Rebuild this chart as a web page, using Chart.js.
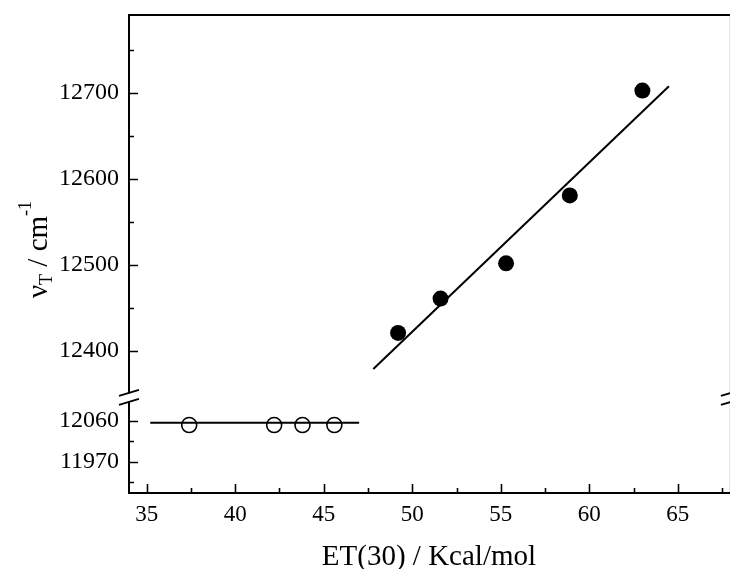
<!DOCTYPE html>
<html>
<head>
<meta charset="utf-8">
<script src="https://cdn.jsdelivr.net/npm/chart.js@4/dist/chart.umd.min.js"></script>
<style>
  html, body { margin: 0; padding: 0; background: #fff; overflow: hidden; }
  #wrap { width: 740px; height: 569px; }
</style>
</head>
<body>
<div id="wrap"><canvas id="et30-chart" width="740" height="569"></canvas></div>
<script>
// ET(30) axis ticks
const etMajor = [35, 40, 45, 50, 55, 60, 65];
const etMinor = [37.5, 42.5, 47.5, 52.5, 57.5, 62.5, 67.5];

// broken wavenumber axis: upper and lower segments
const nuUpperMajor = [12400, 12500, 12600, 12700];
const nuUpperMinor = [12450, 12550, 12650, 12750];
const nuLowerMajor = [11970, 12060];
const nuLowerMinor = [11925, 12015];

// filled circles (upper segment)
const filledEt = [49.2, 51.6, 55.3, 58.9, 63.0];
const filledNu = [12421, 12461, 12502, 12581, 12703];

// open circles (lower segment)
const openEt = [37.4, 42.2, 43.8, 45.6];
const openNu = [12051, 12051, 12051, 12051];

// linear fits
const fitUpperEt = [47.8, 64.5];
const fitUpperNu = [12379, 12708];
const fitLowerEt = [35.2, 47.0];
const fitLowerNu = [12056, 12056];

const toPoints = (xs, ys) => xs.map((x, i) => ({ x: x, y: ys[i] }));

const serif = 'Liberation Serif';
Chart.defaults.font.family = serif;
Chart.defaults.color = '#000';

// keep the plot box fixed: no extra room for overhanging labels
const fixBox = (w, h) => s => {
  if (w) s.width = w;
  if (h) s.height = h;
  s.paddingTop = 0;
  s.paddingBottom = 0;
  s.paddingLeft = 0;
  s.paddingRight = 0;
};

// axes frame, inward ticks, break marks and titles
const framePlugin = {
  id: 'frame',
  afterDraw(chart) {
    const ctx = chart.ctx;
    const area = chart.chartArea;
    const sx = chart.scales.x;
    const up = chart.scales.yUp;
    const low = chart.scales.yLow;
    const yb = up.bottom; // boundary between the two segments
    ctx.save();
    ctx.strokeStyle = '#000';
    ctx.lineCap = 'butt';

    // frame lines
    ctx.lineWidth = 2;
    ctx.beginPath();
    ctx.moveTo(area.left - 1, area.bottom);
    ctx.lineTo(area.right, area.bottom);
    ctx.moveTo(area.left - 1, area.top);
    ctx.lineTo(area.right, area.top);
    [area.left, area.right].forEach(ax => {
      ctx.moveTo(ax, area.top);
      ctx.lineTo(ax, yb - 4);
      ctx.moveTo(ax, yb + 4);
      ctx.lineTo(ax, area.bottom);
    });
    ctx.stroke();

    // break marks
    ctx.lineWidth = 2;
    ctx.beginPath();
    [area.left, area.right].forEach(ax => {
      [-4.5, 4.5].forEach(off => {
        ctx.moveTo(ax - 10, yb + off + 3);
        ctx.lineTo(ax + 10, yb + off - 3);
      });
    });
    ctx.stroke();

    // tick marks pointing into the plot
    ctx.lineWidth = 1.6;
    ctx.beginPath();
    const xTick = (v, len) => {
      const px = Math.round(sx.getPixelForValue(v)) + 0.5;
      ctx.moveTo(px, area.bottom);
      ctx.lineTo(px, area.bottom - len);
    };
    etMajor.forEach(v => xTick(v, 9));
    etMinor.forEach(v => xTick(v, 5));
    const yTick = (scale, v, len) => {
      const py = Math.round(scale.getPixelForValue(v)) + 0.5;
      ctx.moveTo(area.left, py);
      ctx.lineTo(area.left + len, py);
    };
    nuUpperMajor.forEach(v => yTick(up, v, 9));
    nuUpperMinor.forEach(v => yTick(up, v, 5));
    nuLowerMajor.forEach(v => yTick(low, v, 9));
    nuLowerMinor.forEach(v => yTick(low, v, 5));
    ctx.stroke();

    // x title
    ctx.fillStyle = '#000';
    ctx.font = '29px ' + serif;
    ctx.textAlign = 'center';
    ctx.textBaseline = 'alphabetic';
    ctx.fillText('ET(30) / Kcal/mol', (area.left + area.right - 2) / 2, 565);

    // y title: nu_T / cm^-1, rotated
    ctx.translate(47, 298);
    ctx.rotate(-Math.PI / 2);
    ctx.textAlign = 'left';
    let u = 0;
    const part = (txt, size, shift) => {
      ctx.font = size + 'px ' + serif;
      ctx.fillText(txt, u, shift);
      u += ctx.measureText(txt).width;
    };
    part('\u03bd', 29, 0);
    part('T', 18, 5);
    part(' / cm', 29, 0);
    part('-1', 18, -16);
    ctx.restore();
  }
};

new Chart(document.getElementById('et30-chart'), {
  type: 'scatter',
  data: {
    datasets: [
      {
        type: 'line',
        data: toPoints(fitUpperEt, fitUpperNu),
        yAxisID: 'yUp',
        borderColor: '#000',
        borderWidth: 2,
        pointRadius: 0,
        fill: false
      },
      {
        type: 'line',
        data: toPoints(fitLowerEt, fitLowerNu),
        yAxisID: 'yLow',
        borderColor: '#000',
        borderWidth: 2,
        pointRadius: 0,
        fill: false
      },
      {
        data: toPoints(filledEt, filledNu),
        yAxisID: 'yUp',
        pointRadius: 8,
        pointBackgroundColor: '#000',
        pointBorderWidth: 0
      },
      {
        data: toPoints(openEt, openNu),
        yAxisID: 'yLow',
        pointRadius: 7.5,
        pointBackgroundColor: '#fff',
        pointBorderColor: '#000',
        pointBorderWidth: 1.6
      }
    ]
  },
  options: {
    responsive: false,
    animation: false,
    layout: { padding: { top: 15, right: 8, left: 0, bottom: 0 } },
    plugins: {
      legend: { display: false },
      tooltip: { enabled: false }
    },
    scales: {
      x: {
        type: 'linear',
        min: 34,
        max: 68,
        afterFit: fixBox(0, 76),
        afterBuildTicks: s => { s.ticks = etMajor.map(v => ({ value: v })); },
        grid: { display: false, drawTicks: false },
        border: { display: false },
        ticks: { padding: 8, font: { size: 23 }, color: '#000', callback: v => String(v) }
      },
      yLow: {
        type: 'linear',
        position: 'left',
        stack: 'nu',
        stackWeight: 1,
        min: 11901,
        max: 12112,
        afterFit: fixBox(129, 0),
        afterBuildTicks: s => { s.ticks = nuLowerMajor.map(v => ({ value: v })); },
        grid: { display: false, drawTicks: false },
        border: { display: false },
        ticks: { padding: 10, font: { size: 24 }, color: '#000', callback: v => String(v) }
      },
      yUp: {
        type: 'linear',
        position: 'left',
        stack: 'nu',
        stackWeight: 4,
        min: 12346,
        max: 12791,
        afterFit: fixBox(129, 0),
        afterBuildTicks: s => { s.ticks = nuUpperMajor.map(v => ({ value: v })); },
        grid: { display: false, drawTicks: false },
        border: { display: false },
        ticks: { padding: 10, font: { size: 24 }, color: '#000', callback: v => String(v) }
      }
    }
  },
  plugins: [framePlugin]
});
</script>
</body>
</html>
